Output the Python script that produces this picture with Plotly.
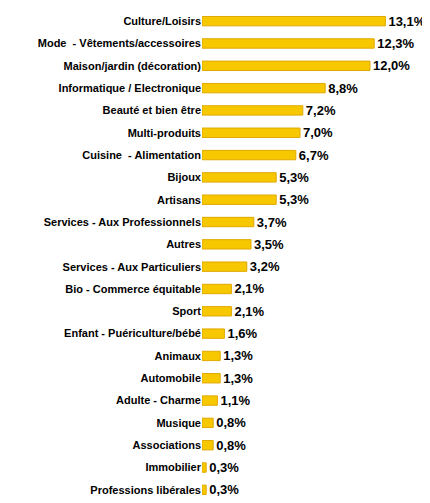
import plotly.graph_objects as go

categories = ["Culture/Loisirs", "Mode  - Vêtements/accessoires", "Maison/jardin (décoration)",
              "Informatique / Electronique", "Beauté et bien être", "Multi-produits",
              "Cuisine  - Alimentation", "Bijoux", "Artisans", "Services - Aux Professionnels",
              "Autres", "Services - Aux Particuliers", "Bio - Commerce équitable", "Sport",
              "Enfant - Puériculture/bébé", "Animaux", "Automobile", "Adulte - Charme",
              "Musique", "Associations", "Immobilier", "Professions libérales"]
values = [13.1, 12.3, 12.0, 8.8, 7.2, 7.0, 6.7, 5.3, 5.3, 3.7, 3.5, 3.2, 2.1, 2.1,
          1.6, 1.3, 1.3, 1.1, 0.8, 0.8, 0.3, 0.3]
labels = [f"{v:.1f}%".replace(".", ",") for v in values]

fig = go.Figure(go.Bar(
    x=values, y=categories, orientation="h",
    width=0.42,
    marker=dict(color="#F7C800", line=dict(color="#E0A800", width=1)),
    text=labels, textposition="outside", cliponaxis=False, constraintext="none",
    textfont=dict(family="Liberation Sans, Arial", size=13, color="black"),
))
fig.update_traces(texttemplate="<b>%{text}</b>")
fig.update_layout(
    width=430, height=503,
    margin=dict(l=194, r=12, t=2, b=10),
    plot_bgcolor="white", paper_bgcolor="white",
    showlegend=False,
    xaxis=dict(range=[0, 16.0], visible=False),
    yaxis=dict(autorange="reversed", ticks="", ticksuffix="  ",
               tickfont=dict(family="Liberation Sans, Arial", size=11, color="black"),
               tickvals=categories, ticktext=[f"<b>{c}</b>" for c in categories]),
)
fig.write_html("out.html")
